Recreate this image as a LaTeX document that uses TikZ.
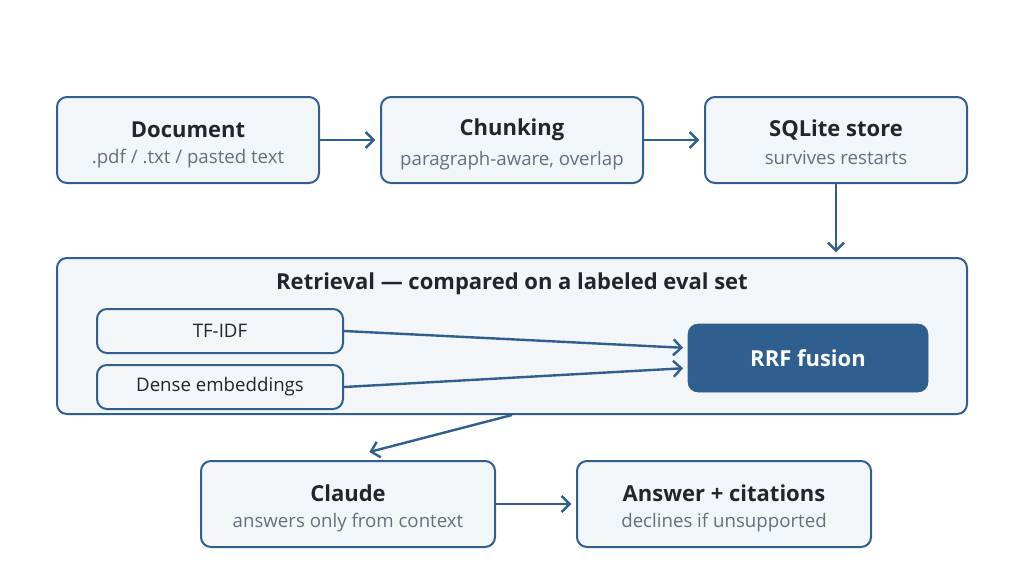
\documentclass[tikz,border=0pt]{standalone}
\usepackage{fontspec}
\setmainfont{Open Sans}
\usetikzlibrary{arrows.meta}

\definecolor{edge}{RGB}{46,95,142}
\definecolor{pale}{RGB}{243,246,249}
\definecolor{ink}{RGB}{34,38,44}
\definecolor{subgrey}{RGB}{100,112,126}

\newcommand{\stage}[2]{{\bfseries\fontsize{16.5}{20}\selectfont\rule{0pt}{20pt}#1}\\[7pt]{\color{subgrey}\fontsize{14}{17}\selectfont #2\rule[-4.5pt]{0pt}{4.5pt}}}

\begin{document}
\begin{tikzpicture}[x = 0.75pt, y = -0.75pt,
                    box/.style = {draw = edge, fill = pale, line width = 1.5pt, rounded corners = 7.5pt,
                                  minimum width = 196.5pt, minimum height = 64.5pt, align = center, text = ink},
                    wide/.style = {box, minimum width = 220.5pt},
                    small/.style = {draw = edge, fill = pale, line width = 1.5pt, rounded corners = 7.5pt,
                                    minimum width = 184.5pt, minimum height = 33pt, text = ink,
                                    font = \fontsize{14}{17}\selectfont},
                    fused/.style = {draw = edge, fill = edge, rounded corners = 7.5pt, minimum width = 180pt,
                                    minimum height = 51pt, text = white, font = \bfseries\fontsize{16.5}{20}\selectfont},
                    arr/.style = {draw = edge, line width = 1.8pt, -{Straight Barb[length = 6pt, width = 12pt]},
                                  shorten > = 3.5pt}]
      \useasboundingbox (0, 0) rectangle (1024, 576);

      % top row
      \node [box] (doc) at (188, 140) {\stage{Document}{.pdf / .txt / pasted text}};
      \node [box] (chunk) at (512, 140) {\stage{Chunking}{paragraph-aware, overlap}};
      \node [box] (store) at (836, 140) {\stage{SQLite store}{survives restarts}};

      % retrieval block
      \node [box, minimum width = 682.5pt, minimum height = 117pt] (retr) at (512, 336) {};
      \node [text = ink, font = \bfseries\fontsize{16.5}{20}\selectfont] (retrtitle) at (512, 284)
            {Retrieval — compared on a labeled eval set};
      \node [small] (tfidf) at (220, 331) {TF-IDF};
      \node [small] (dense) at (220, 387) {Dense embeddings};
      \node [fused] (rrf) at (808, 358) {RRF fusion};

      % bottom row
      \node [wide] (claude) at (348, 504) {\stage{Claude}{answers only from context}};
      \node [wide] (answer) at (724, 504) {\stage{Answer + citations}{declines if unsupported}};

      \draw [arr] (doc) -- (chunk);
      \draw [arr] (chunk) -- (store);
      \draw [arr] (store.south) -- (store.south |- retr.north);
      \draw [arr] (tfidf.east) -- ([yshift = 7.5pt]rrf.west);
      \draw [arr] (dense.east) -- ([yshift = -7.5pt]rrf.west);
      \draw [arr, shorten > = 0pt] (retr.south) -- ([xshift = 16pt, yshift = 6pt]claude.north);
      \draw [arr] (claude) -- (answer);
\end{tikzpicture}
\end{document}
